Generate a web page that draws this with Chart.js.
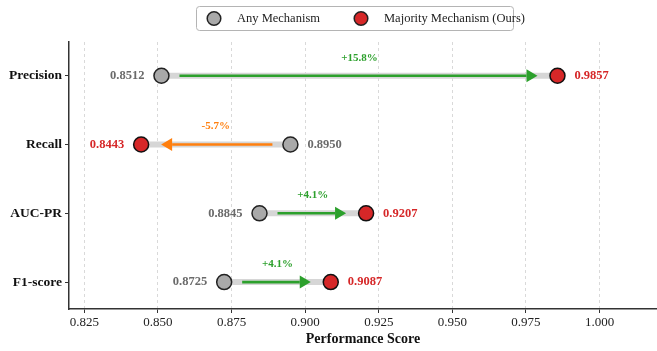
<!DOCTYPE html>
<html>
<head>
<meta charset="utf-8">
<script src="https://cdn.jsdelivr.net/npm/chart.js@4.4.1/dist/chart.umd.min.js"></script>
<style>
  html, body { margin: 0; padding: 0; background: #fff; }
  #wrap { width: 657px; height: 351px; position: relative; }
</style>
</head>
<body>
<div id="wrap"><canvas id="c" width="657" height="351"></canvas></div>
<script>
// Metrics, top to bottom
const metrics = ['Precision', 'Recall', 'AUC-PR', 'F1-score'];
// Scores of the two mechanisms
const anyScores = [0.8512, 0.8950, 0.8845, 0.8725];
const majorityScores = [0.9857, 0.8443, 0.9207, 0.9087];
// X axis ticks
const xTicks = [0.825, 0.850, 0.875, 0.900, 0.925, 0.950, 0.975, 1.000];
const seriesNames = ['Any Mechanism', 'Majority Mechanism (Ours)'];

const SERIF = "'Times New Roman', 'Liberation Serif', serif";
const GRAY_FILL = '#a9a9a9';
const RED_FILL = '#d62728';
const UP_COLOR = '#2ca02c';
const DOWN_COLOR = '#ff7f0e';
const LABEL_GRAY = '#6a6a6a';

const anyPts = metrics.map((m, i) => ({ x: anyScores[i], y: i }));
const majPts = metrics.map((m, i) => ({ x: majorityScores[i], y: i }));

// connectors, arrows, value and change labels
const dumbbellPlugin = {
  id: 'dumbbell',
  beforeDatasetsDraw(chart) {
    const { ctx, scales: { x, y } } = chart;
    ctx.save();
    metrics.forEach((m, i) => {
      const x0 = x.getPixelForValue(anyScores[i]);
      const x1 = x.getPixelForValue(majorityScores[i]);
      const py = y.getPixelForValue(i);
      // light connector
      ctx.strokeStyle = '#d6d6d6';
      ctx.lineWidth = 6;
      ctx.lineCap = 'butt';
      ctx.beginPath();
      ctx.moveTo(x0, py);
      ctx.lineTo(x1, py);
      ctx.stroke();
      // arrow
      const dir = Math.sign(x1 - x0);
      const col = dir > 0 ? UP_COLOR : DOWN_COLOR;
      const sx = x0 + dir * 18;
      const tip = x1 - dir * 20;
      const headLen = 11, headHalf = 6.5;
      ctx.strokeStyle = col;
      ctx.fillStyle = col;
      ctx.lineWidth = 2.6;
      ctx.beginPath();
      ctx.moveTo(sx, py);
      ctx.lineTo(tip - dir * headLen, py);
      ctx.stroke();
      ctx.beginPath();
      ctx.moveTo(tip, py);
      ctx.lineTo(tip - dir * headLen, py - headHalf);
      ctx.lineTo(tip - dir * headLen, py + headHalf);
      ctx.closePath();
      ctx.fill();
    });
    ctx.restore();
  },
  afterDatasetsDraw(chart) {
    const { ctx, scales: { x, y } } = chart;
    ctx.save();
    ctx.textBaseline = 'middle';
    metrics.forEach((m, i) => {
      const a = anyScores[i], b = majorityScores[i];
      const x0 = x.getPixelForValue(a);
      const x1 = x.getPixelForValue(b);
      const py = y.getPixelForValue(i);
      const dir = Math.sign(x1 - x0);
      ctx.font = 'bold 12.5px ' + SERIF;
      // baseline value on the outer side of the gray point
      ctx.fillStyle = LABEL_GRAY;
      ctx.textAlign = dir > 0 ? 'right' : 'left';
      ctx.fillText(a.toFixed(4), x0 - dir * 17, py);
      // majority value on the outer side of the red point
      ctx.fillStyle = RED_FILL;
      ctx.textAlign = dir > 0 ? 'left' : 'right';
      ctx.fillText(b.toFixed(4), x1 + dir * 17, py);
      // relative change
      const pct = (b - a) / a * 100;
      ctx.font = 'bold 11px ' + SERIF;
      ctx.fillStyle = dir > 0 ? UP_COLOR : DOWN_COLOR;
      ctx.textAlign = 'center';
      ctx.fillText((pct >= 0 ? '+' : '') + pct.toFixed(1) + '%', (x0 + x1) / 2, py - 18);
    });
    ctx.restore();
  },
  afterDraw(chart) {
    // framed legend at the top
    const { ctx } = chart;
    ctx.save();
    const bx = 196.5, by = 6.5, bw = 317, bh = 24;
    ctx.fillStyle = '#fff';
    ctx.strokeStyle = '#b4b4b4';
    ctx.lineWidth = 1;
    ctx.beginPath();
    ctx.roundRect(bx, by, bw, bh, 3);
    ctx.fill();
    ctx.stroke();
    const items = [
      { cx: 214, tx: 237, fill: GRAY_FILL, text: seriesNames[0] },
      { cx: 361, tx: 384, fill: RED_FILL, text: seriesNames[1] }
    ];
    const cy = 18.5;
    items.forEach(it => {
      ctx.beginPath();
      ctx.arc(it.cx, cy, 6.8, 0, Math.PI * 2);
      ctx.fillStyle = it.fill;
      ctx.fill();
      ctx.lineWidth = 1.5;
      ctx.strokeStyle = '#222';
      ctx.stroke();
      ctx.fillStyle = '#222';
      ctx.font = '12.5px ' + SERIF;
      ctx.textAlign = 'left';
      ctx.textBaseline = 'middle';
      ctx.fillText(it.text, it.tx, cy);
    });
    ctx.restore();
  }
};

new Chart(document.getElementById('c'), {
  type: 'scatter',
  data: {
    datasets: [
      {
        label: seriesNames[0],
        data: anyPts,
        pointRadius: 7.5,
        pointHoverRadius: 7.5,
        backgroundColor: GRAY_FILL,
        borderColor: '#222',
        borderWidth: 1.5
      },
      {
        label: seriesNames[1],
        data: majPts,
        pointRadius: 7.5,
        pointHoverRadius: 7.5,
        backgroundColor: RED_FILL,
        borderColor: '#111',
        borderWidth: 1.5
      }
    ]
  },
  options: {
    responsive: false,
    animation: false,
    devicePixelRatio: 1,
    layout: { autoPadding: false, padding: { top: 42, right: 0, left: 0, bottom: 0 } },
    plugins: {
      legend: { display: false },
      tooltip: { enabled: false }
    },
    scales: {
      x: {
        type: 'linear',
        min: 0.8198,
        max: 1.0195,
        afterBuildTicks(scale) { scale.ticks = xTicks.map(v => ({ value: v })); },
        afterFit(scale) {
          scale.height = 42;
          scale.paddingLeft = 0;
          scale.paddingRight = 0;
        },
        ticks: {
          callback: v => v.toFixed(3),
          color: '#222',
          font: { family: SERIF, size: 13 },
          padding: 2,
          maxRotation: 0,
          autoSkip: false
        },
        grid: {
          color: '#d0d0d0',
          lineWidth: 0.8,
          drawTicks: true,
          tickLength: 4,
          tickColor: '#333',
          tickWidth: 1
        },
        border: { display: true, color: '#333', width: 1.5, dash: [3, 3] },
        title: {
          display: true,
          text: 'Performance Score',
          color: '#111',
          font: { family: SERIF, size: 14, weight: 'bold' },
          padding: { top: 0, bottom: 3 }
        }
      },
      y: {
        type: 'linear',
        reverse: true,
        min: -0.49,
        max: 3.391,
        afterBuildTicks(scale) { scale.ticks = metrics.map((m, i) => ({ value: i })); },
        afterFit(scale) { scale.width = 69; },
        ticks: {
          callback: v => metrics[v],
          color: '#111',
          font: { family: SERIF, size: 13.5, weight: 'bold' },
          padding: 3,
          autoSkip: false
        },
        grid: {
          drawOnChartArea: false,
          drawTicks: true,
          tickLength: 4,
          tickColor: '#333'
        },
        border: { display: true, color: '#333', width: 1.5 }
      }
    }
  },
  plugins: [dumbbellPlugin]
});
</script>
</body>
</html>
